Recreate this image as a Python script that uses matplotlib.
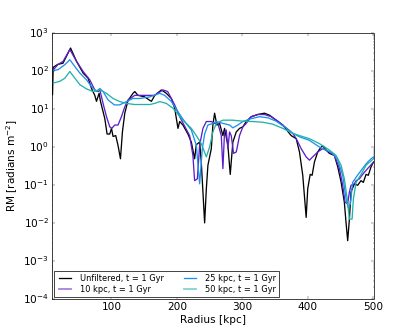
import numpy as np
import matplotlib
matplotlib.use('Agg')
import matplotlib.pyplot as plt

# Radius [kpc] and RM [radians m^-2], one pair of arrays per curve
r_unf = [10, 11, 18, 26, 37.5, 46.6, 56.7, 64.3, 69.5, 74.5, 77.1, 81.1, 83.2, 87.2, 89.8,
         93.3, 97.4, 100, 102.4, 106.5, 110, 113.7, 116.7, 120.3, 125.3, 132.9, 135.5, 140.5,
         150.7, 158.4, 161, 166, 176.2, 183.8, 191.4, 196.5, 201.5, 204.1, 209.1, 216.7, 221.9,
         226.9, 229.5, 234.6, 237.1, 242.2, 244.8, 247.2, 252.4, 254.8, 257.4, 260.9, 265,
         270.1, 272.6, 277.7, 281.3, 285.3, 290.5, 295.5, 300.5, 305.7, 313.3, 323.4, 333.6,
         341.2, 351.4, 361.5, 374.3, 382, 387, 392, 397.2, 399.6, 403.3, 406.3, 409.8, 414.8,
         420, 422.5, 427.7, 432.7, 440.3, 445.4, 450.5, 455.5, 458.1, 460.6, 463.2, 465.7,
         470.8, 475.8, 481, 484.5, 488.6, 492.1, 496.2, 500]
rm_unf = [24, 126, 151, 162, 407, 182, 89, 65, 35, 23, 16, 26, 16, 8.5, 5.6,
          2.2, 2.2, 3.1, 1.9, 2.0, 1.1, 0.49, 2.5, 7.8, 17, 26, 29, 23,
          21, 17, 16, 23, 32, 26, 19, 10.5, 3.1, 4.7, 3.8, 2.2, 1.35,
          0.49, 1.15, 1.35, 0.40, 0.010, 0.079, 0.33, 0.91, 3.8, 7.8, 3.8, 4.2,
          2.0, 3.1, 1.1, 0.19, 1.35, 2.5, 3.1, 3.4, 4.7, 6.3, 7.2, 7.8,
          6.9, 5.1, 3.8, 2.0, 1.66, 0.74, 0.18, 0.014, 0.079, 0.19, 0.18, 0.40, 0.74,
          1.0, 1.07, 0.83, 0.68, 0.60, 0.30, 0.12, 0.035, 0.010, 0.0034, 0.0126, 0.065,
          0.107, 0.098, 0.13, 0.117, 0.19, 0.18, 0.30, 0.40]

r_10 = [10, 18.1, 26.2, 36.4, 46.6, 56.7, 66.9, 74.5, 79.6, 82.2, 87.2, 92.4, 97.4, 100.4,
        105, 110, 115.2, 120.3, 125.3, 132.4, 135.5, 150.7, 166, 178.6, 185.8, 196.5, 204.1,
        219.3, 224.3, 226.9, 231.1, 234.6, 239.6, 244.8, 252.4, 257.4, 262.4, 267.6, 270.1,
        272.6, 275.2, 277.7, 280.3, 282.8, 286.4, 290.5, 295.5, 300.5, 305.7, 313.3, 323.4,
        333.6, 343.8, 353.9, 366.7, 376.7, 382, 389.5, 397.2, 402.2, 407.2, 414.8, 422.5,
        432.7, 440.3, 448, 453, 456.6, 460.6, 463.2, 465.7, 470.8, 473.4, 478.4, 483.4,
        491, 500]
rm_10 = [102, 148, 182, 372, 182, 98, 59, 32, 29, 32, 14, 6.3, 3.4, 3.1,
         3.8, 3.8, 6.3, 11.5, 17.4, 21, 23, 23, 23, 32, 29, 12.9, 6.3,
         2.0, 0.60, 0.13, 0.145, 1.12, 3.1, 4.7, 4.7, 4.2, 4.2, 2.0, 0.27,
         2.5, 2.8, 0.91, 2.5, 2.0, 0.68, 0.74, 2.0, 3.4, 4.2, 6.3, 7.2,
         7.2, 6.3, 4.8, 3.2, 2.3, 1.66, 0.91, 0.55, 0.45, 0.55, 0.74, 0.91,
         0.74, 0.60, 0.27, 0.098, 0.035, 0.032, 0.065, 0.098, 0.107, 0.13, 0.145, 0.19,
         0.27, 0.40]

r_25 = [10, 18.6, 28.8, 36.4, 44.1, 51.7, 61.9, 69.5, 77.1, 82.2, 87.2, 94.8, 104.4, 112.6,
        122.8, 132.9, 143.1, 158.4, 173.6, 181.2, 191.4, 201.5, 211.7, 221.9, 229.5, 234.6,
        238.7, 242.2, 247.2, 254.8, 260, 270.1, 280.3, 285.3, 292.9, 300.5, 313.3, 326,
        338.6, 351.4, 364.1, 376.7, 387, 402.2, 417.4, 427.7, 437.8, 445.4, 453, 458.1,
        461.6, 464.7, 468.2, 473.4, 481, 488.6, 496.2, 500]
rm_25 = [102, 110, 148, 200, 132, 89, 59, 39, 29, 35, 29, 17.4, 12.9, 12.9,
         15.8, 19, 19, 21, 26, 23, 15.8, 8.5, 4.7, 2.8, 1.12, 0.107,
         0.91, 2.2, 3.8, 4.2, 4.7, 4.2, 3.8, 3.2, 3.8, 4.7, 5.6, 6.3,
         5.9, 4.8, 3.4, 2.3, 1.86, 1.5, 1.0, 0.83, 0.68, 0.45, 0.18, 0.043,
         0.025, 0.032, 0.117, 0.16, 0.24, 0.36, 0.49, 0.55]

r_50 = [10, 21.2, 28.8, 36.4, 44.1, 51.7, 61.9, 72, 82.2, 92.4, 102.4, 112.6, 122.8, 135.5,
        143.1, 158.4, 166, 173.6, 183.8, 193.9, 209.1, 221.9, 229.5, 237.1, 244.8, 249.8,
        254.8, 260, 270.1, 285.3, 300.5, 315.8, 331, 346.3, 361.5, 376.7, 387, 402.2,
        417.4, 432.7, 442.9, 450.5, 455.5, 460.6, 463.2, 467.3, 469.3, 473.4, 481, 488.6,
        500]
rm_50 = [48, 54, 65, 98, 65, 44, 34, 29, 32, 26, 19, 15.8, 14.1, 13.2,
         13.2, 13.2, 14.1, 15.8, 14.1, 10.5, 5.1, 3.1, 2.0, 1.23, 0.55, 1.0,
         2.5, 4.2, 5.1, 5.1, 4.8, 4.7, 4.5, 4.0, 3.1, 2.3, 2.0, 1.66,
         1.23, 0.83, 0.60, 0.33, 0.145, 0.035, 0.0126, 0.0126, 0.043, 0.117, 0.19, 0.33,
         0.49]

plt.style.use('classic')
plt.rcParams['mathtext.fontset'] = 'dejavusans'
plt.rcParams['font.size'] = 14.5

fig = plt.figure(figsize=(8, 6.4), dpi=51.875)
ax = fig.add_subplot(111)

lw = 1.8
ax.plot(r_unf, rm_unf, color='black', lw=lw, label='Unfiltered, t = 1 Gyr')
ax.plot(r_10, rm_10, color='#5a1ec8', lw=lw, label='10 kpc, t = 1 Gyr')
ax.plot(r_25, rm_25, color='#1e8ef0', lw=lw, label='25 kpc, t = 1 Gyr')
ax.plot(r_50, rm_50, color='#20b2a8', lw=lw, label='50 kpc, t = 1 Gyr')

ax.set_yscale('log')
ax.set_xlim(9, 500)
ax.set_ylim(1e-4, 1e3)
ax.set_xlabel('Radius [kpc]')
ax.set_ylabel('RM [radians m$^{-2}$]')

leg = ax.legend(loc='lower left', ncol=2, fontsize=11.5, handlelength=2,
                columnspacing=2.2, borderpad=0.35, labelspacing=0.25,
                borderaxespad=0.2)
# legend handles for the purple and teal lines look washed out in the original
for h in leg.get_lines()[1::2]:
    h.set_alpha(0.55)
    h.set_linewidth(2.5)

fig.savefig('out.png', dpi=51.875)
